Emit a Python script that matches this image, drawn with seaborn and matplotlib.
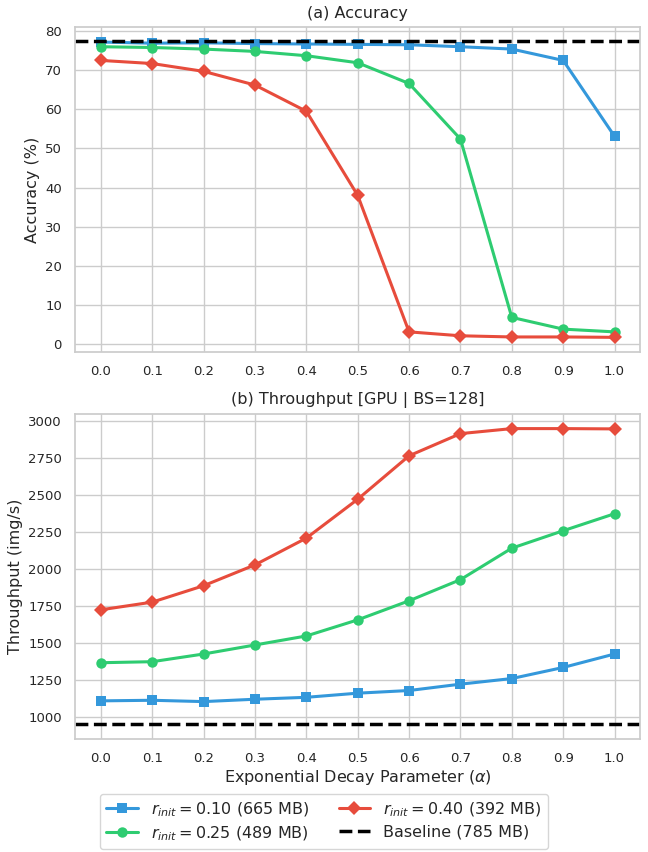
import numpy as np
import pandas as pd
import matplotlib
matplotlib.use("Agg")
import matplotlib.pyplot as plt
import seaborn as sns

alpha = [0.0, 0.1, 0.2, 0.3, 0.4, 0.5, 0.6, 0.7, 0.8, 0.9, 1.0]

# accuracy (%)
acc_r010 = [77.2, 76.9, 77.0, 76.8, 76.7, 76.6, 76.5, 76.0, 75.4, 72.5, 53.1]
acc_r025 = [76.0, 75.8, 75.4, 74.8, 73.7, 71.9, 66.6, 52.4, 6.8, 3.8, 3.1]
acc_r040 = [72.5, 71.7, 69.7, 66.2, 59.5, 38.0, 3.1, 2.1, 1.8, 1.8, 1.7]
acc_baseline = 77.4

# throughput (img/s)
thr_r010 = [1106, 1110, 1101, 1117, 1130, 1158, 1176, 1219, 1257, 1332, 1423]
thr_r025 = [1364, 1371, 1423, 1484, 1545, 1654, 1783, 1926, 2139, 2257, 2372]
thr_r040 = [1722, 1774, 1885, 2026, 2207, 2470, 2764, 2914, 2948, 2948, 2946]
thr_baseline = 950

labels = [r"$r_{init} = 0.10$ (665 MB)", r"$r_{init} = 0.25$ (489 MB)",
          r"$r_{init} = 0.40$ (392 MB)"]
baseline_label = "Baseline (785 MB)"
colors = ["#3498db", "#2ecc71", "#e74c3c"]
markers = ["s", "o", "D"]

sns.set_theme(style="whitegrid")
plt.rcParams["font.family"] = ["DejaVu Sans"]

fig, (ax1, ax2) = plt.subplots(2, 1, figsize=(6.48, 8.52), dpi=100)
fig.subplots_adjust(left=0.116, right=0.988, top=0.968, bottom=0.133, hspace=0.19)

def draw(ax, series, base, title, ylabel):
    for vals, lab, c, m in zip(series, labels, colors, markers):
        df = pd.DataFrame({"alpha": alpha, "val": vals})
        sns.lineplot(data=df, x="alpha", y="val", ax=ax, color=c, marker=m,
                     markersize=7.5, markeredgewidth=0, linewidth=2.2, label=lab)
    ax.axhline(base, color="black", linestyle="--", linewidth=2.5, label=baseline_label)
    ax.set_title(title, fontsize=11.5, pad=7)
    ax.set_ylabel(ylabel, fontsize=11.5)
    ax.set_xticks(alpha)
    ax.set_xticklabels([f"{a:.1f}" for a in alpha])
    ax.tick_params(labelsize=9.5)
    for s in ax.spines.values():
        s.set_color("#cccccc")
    ax.get_legend().remove()

draw(ax1, [acc_r010, acc_r025, acc_r040], acc_baseline, "(a) Accuracy", "Accuracy (%)")
ax1.set_xlabel("")
draw(ax2, [thr_r010, thr_r025, thr_r040], thr_baseline,
     "(b) Throughput [GPU | BS=128]", "Throughput (img/s)")
ax2.set_xlabel(r"Exponential Decay Parameter ($\alpha$)", fontsize=11.5, labelpad=2)

h, l = ax2.get_legend_handles_labels()
fig.legend(h, l, loc="lower center", bbox_to_anchor=(0.5, -0.006), ncol=2,
           fontsize=11.5, frameon=True, handlelength=2.0, columnspacing=1.8,
           labelspacing=0.35)

fig.savefig("out.png", dpi=100)
